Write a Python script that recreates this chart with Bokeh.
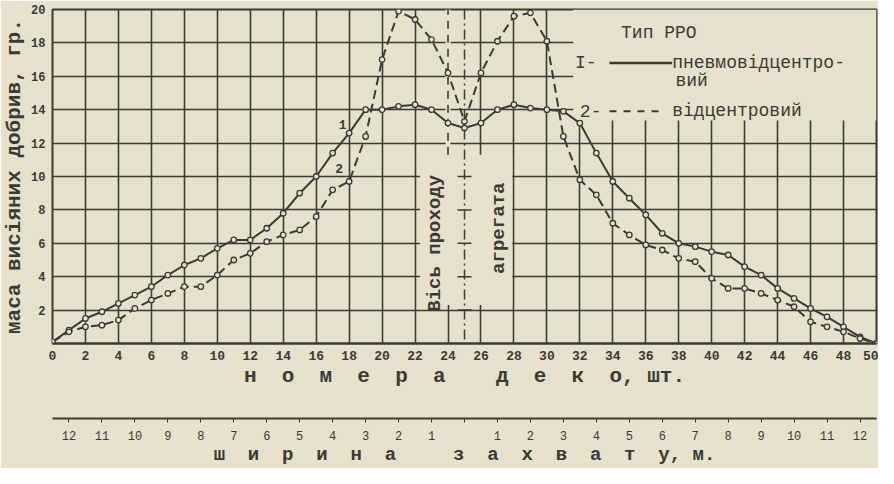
import numpy as np
from bokeh.plotting import figure
from bokeh.models import Range1d, LinearAxis, FixedTicker, BoxAnnotation, Span
from bokeh.core.properties import value
from bokeh.embed import file_html
from bokeh.resources import INLINE

# ---- data ----
decks = list(range(0, 51))
mass_pneumo = [0.1, 0.8, 1.5, 1.9, 2.4, 2.9, 3.4, 4.1, 4.7, 5.1,
               5.7, 6.2, 6.2, 6.9, 7.8, 9.0, 10.0, 11.4, 12.6, 14.0,
               14.0, 14.2, 14.3, 14.0, 13.2, 12.9, 13.2, 14.0, 14.3, 14.1,
               14.0, 13.9, 13.2, 11.4, 9.7, 8.7, 7.7, 6.6, 6.0, 5.8,
               5.5, 5.3, 4.6, 4.1, 3.3, 2.7, 2.1, 1.6, 1.0, 0.4, 0.0]
mass_centrifugal = [0.1, 0.7, 1.0, 1.1, 1.4, 2.1, 2.6, 3.0, 3.4, 3.4,
                    4.1, 5.0, 5.4, 6.1, 6.5, 6.8, 7.6, 9.2, 9.7, 12.4,
                    17.0, 19.9, 19.4, 18.2, 16.2, 13.3, 16.2, 18.1, 19.6, 19.8,
                    18.1, 12.4, 9.8, 8.9, 7.2, 6.5, 5.9, 5.6, 5.1, 4.9,
                    3.9, 3.3, 3.3, 3.0, 2.6, 2.2, 1.3, 1.0, 0.7, 0.3, 0.0]
x_ticks = list(range(0, 51, 2))
y_ticks = list(range(2, 21, 2))
width_ticks = list(range(-12, 13))
width_labels = ["" if t == 0 else str(abs(t)) for t in width_ticks]
axis_cross_marks = [2, 4, 6, 8, 10]

NB = "\u00a0"


def spaced(word, gap=2):
    """Typewriter-style letter spacing with non-breaking spaces."""
    return (NB * gap).join(word)


PAPER = "#e6e1cc"
INK = "#3b3a35"
FONT = "Liberation Mono"

p = figure(width=878, height=468, x_range=Range1d(0, 50), y_range=Range1d(0, 20),
           output_backend="svg", toolbar_location=None)
p.extra_x_ranges = {"w": Range1d(-12.5, 12.5)}
p.background_fill_color = PAPER
p.border_fill_color = PAPER
p.outline_line_color = INK
p.outline_line_width = 2
p.min_border_left = 0
p.min_border_right = 2
p.min_border_top = 9
p.min_border_bottom = 0

# primary x axis: deck numbers
xa = p.xaxis[0]
xa.ticker = FixedTicker(ticks=x_ticks)
xa.axis_line_color = INK
xa.axis_line_width = 2
xa.major_tick_in = 0
xa.major_tick_out = 0
xa.minor_tick_line_color = None
xa.major_label_standoff = 7
xa.major_label_text_font = FONT
xa.major_label_text_font_size = "13px"
xa.major_label_text_font_style = "bold"
xa.major_label_text_color = INK
xa.axis_label = spaced("номера") + NB * 4 + spaced("деко") + "," + NB + "шт.\n" + NB
xa.axis_label_standoff = 2
xa.axis_label_text_font = FONT
xa.axis_label_text_font_size = "21px"
xa.axis_label_text_font_style = "bold"
xa.axis_label_text_color = INK

# y axis
ya = p.yaxis[0]
ya.ticker = FixedTicker(ticks=y_ticks)
ya.axis_line_color = None
ya.major_tick_in = 0
ya.major_tick_out = 0
ya.minor_tick_line_color = None
ya.major_label_standoff = 7
ya.major_label_text_font = FONT
ya.major_label_text_font_size = "12px"
ya.major_label_text_font_style = "bold"
ya.major_label_text_color = INK
ya.axis_label = "маса висіяних добрив, гр."
ya.axis_label_standoff = 2
ya.axis_label_text_font = FONT
ya.axis_label_text_font_size = "21px"
ya.axis_label_text_font_style = "bold"
ya.axis_label_text_color = INK

# secondary axis: working width, m
wa = LinearAxis(x_range_name="w", ticker=FixedTicker(ticks=width_ticks),
                major_label_overrides=dict(zip(width_ticks, width_labels)))
wa.axis_line_color = INK
wa.axis_line_width = 2
wa.major_tick_in = 0
wa.major_tick_out = 4
wa.major_tick_line_color = INK
wa.minor_tick_line_color = None
wa.major_label_standoff = 8
wa.major_label_text_font = FONT
wa.major_label_text_font_size = "12px"
wa.major_label_text_color = INK
wa.axis_label = spaced("ширина") + NB * 5 + spaced("захвату") + "," + NB + "м."
wa.axis_label_standoff = 1
wa.axis_label_text_font = FONT
wa.axis_label_text_font_size = "19px"
wa.axis_label_text_font_style = "bold"
wa.axis_label_text_color = INK
p.add_layout(wa, "below")

# grid
p.xgrid.ticker = FixedTicker(ticks=x_ticks)
p.ygrid.ticker = FixedTicker(ticks=[0] + y_ticks)
p.xgrid.grid_line_color = INK
p.ygrid.grid_line_color = INK
p.xgrid.grid_line_width = 1.6
p.ygrid.grid_line_width = 1.6

# blank areas of the chart paper (legend block, axis-of-pass block)
for l, r, b, t in [(31.6, 50, 13.35, 20), (22.3, 27.9, 2.3, 11.3), (23.85, 24.15, 2.3, 20)]:
    p.add_layout(BoxAnnotation(left=l, right=r, bottom=b, top=t, fill_color=PAPER,
                               fill_alpha=1, line_color=None, level="underlay"))
p.segment(x0=[24], y0=[11.3], x1=[24], y1=[20], line_color=INK, line_width=1.6,
          line_dash="8 6")

# axis of the unit pass
p.add_layout(Span(location=25, dimension="height", line_color=INK, line_width=1.5,
                  line_dash="10 4 2 4"))
p.scatter(x=[25] * len(axis_cross_marks), y=axis_cross_marks, marker="dash", size=14,
          line_color=INK, line_width=1.5)
p.text(x=[23.2], y=[6.0], text=["Вісь проходу"], angle=np.pi / 2, text_align="center",
       text_baseline="middle", text_font=value(FONT), text_font_size="19px",
       text_font_style="bold", text_color=INK)
p.text(x=[27.1], y=[6.9], text=["агрегата"], angle=np.pi / 2, text_align="center",
       text_baseline="middle", text_font=value(FONT), text_font_size="19px",
       text_font_style="bold", text_color=INK)

# curves
p.line(decks, mass_pneumo, line_color=INK, line_width=2)
p.scatter(decks, mass_pneumo, marker="circle", size=5.5, fill_color=PAPER,
          line_color=INK, line_width=1.3)
p.line(decks, mass_centrifugal, line_color=INK, line_width=2, line_dash="9 5")
p.scatter(decks, mass_centrifugal, marker="circle", size=5.5, fill_color=PAPER,
          line_color=INK, line_width=1.3)

# curve numbers
p.text(x=[17.6, 17.4], y=[13.1, 10.5], text=["1", "2"], text_align="center",
       text_baseline="middle", text_font=value(FONT), text_font_size="13px",
       text_font_style="bold", text_color=INK)

# legend block
p.text(x=[34.5], y=[18.6], text=["Тип РРО"], text_align="left", text_baseline="middle",
       text_font=value(FONT), text_font_size="18px", text_color=INK)
p.text(x=[31.7, 32.0], y=[16.8, 13.9], text=["I-", "2-"], text_align="left",
       text_baseline="middle", text_font=value(FONT), text_font_size="18px", text_color=INK)
p.segment(x0=[33.8], y0=[16.8], x1=[37.6], y1=[16.8], line_color=INK, line_width=2.5)
p.segment(x0=[33.8], y0=[13.9], x1=[37.2], y1=[13.9], line_color=INK, line_width=2,
          line_dash="7 7")
p.text(x=[37.6, 37.8, 37.6], y=[16.8, 15.7, 13.9],
       text=["пневмовідцентро-", "вий", "відцентровий"], text_align="left",
       text_baseline="middle", text_font=value(FONT), text_font_size="18px", text_color=INK)

open("out.html", "w").write(file_html(p, INLINE))
